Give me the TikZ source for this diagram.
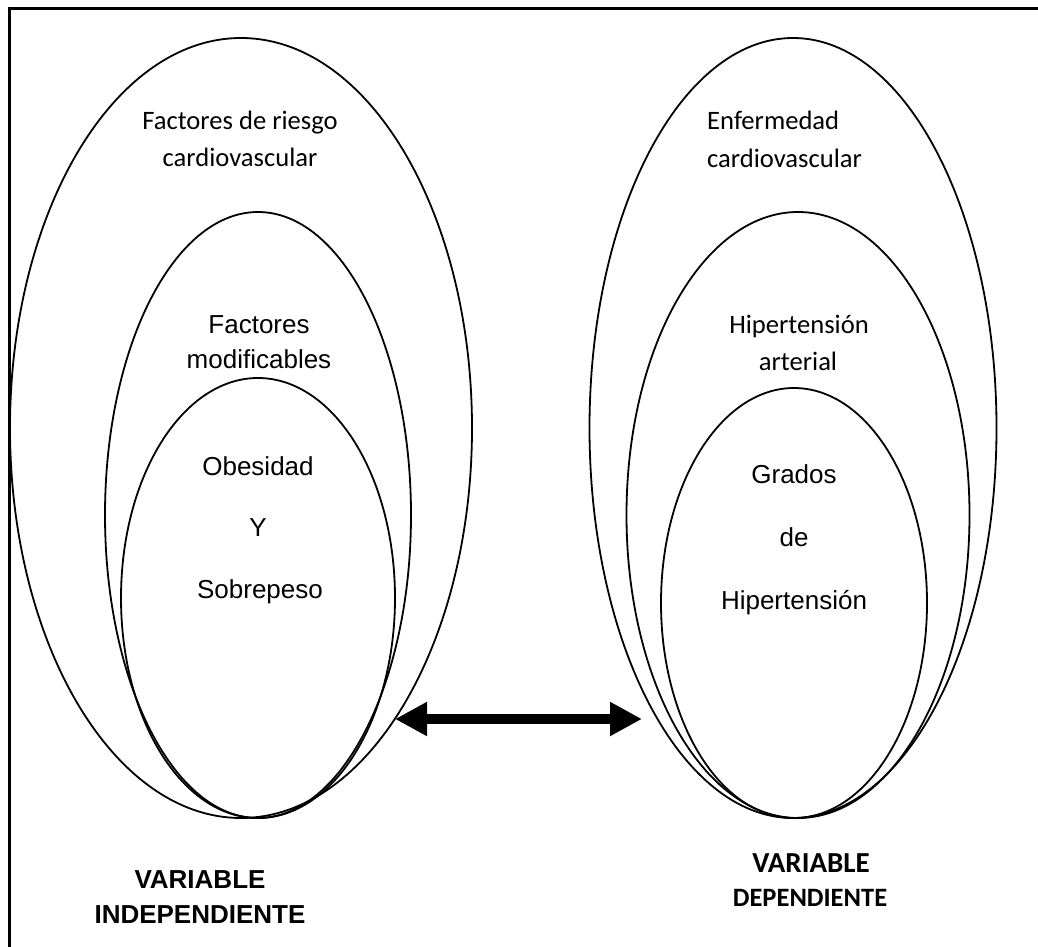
\documentclass[tikz,border=0pt]{standalone}
\usepackage{fontspec}
\usetikzlibrary{shapes.geometric,arrows.meta}
\newfontfamily\calfont{Carlito}
\newfontfamily\arifont{Liberation Sans}
\begin{document}
\begin{tikzpicture}[x=1pt,y=-1pt,
  oval/.style={draw,ellipse,line width=1.8pt,inner sep=0pt},
  cal/.style={inner sep=0pt,anchor=base,font=\calfont\fontsize{26.6}{30}\selectfont},
  ari/.style={inner sep=0pt,anchor=base,font=\arifont\fontsize{26}{30}\selectfont},
  arib/.style={inner sep=0pt,anchor=base,font=\arifont\bfseries\fontsize{26}{30}\selectfont},
  calb/.style={inner sep=0pt,anchor=base,font=\calfont\bfseries\fontsize{26.5}{30}\selectfont},
  bigarrow/.style={line width=10pt,{Triangle[length=32pt,width=32pt]}-{Triangle[length=32pt,width=32pt]}}]
\useasboundingbox (0,0) rectangle (1038,947);
% frame (left and top edges visible)
\draw[line width=3pt] (9,947) -- (9,9) -- (1038,9);
% left ellipses
\node[oval,minimum width=462pt,minimum height=780pt] (L1) at (241,428) {};
\node[oval,minimum width=306pt,minimum height=606pt] (L2) at (258,515) {};
\node[oval,minimum width=274pt,minimum height=440pt] (L3) at (258,598) {};
% right ellipses
\node[oval,minimum width=407pt,minimum height=780pt] (R1) at (793,428) {};
\node[oval,minimum width=343pt,minimum height=606pt] (R2) at (798,515) {};
\node[oval,minimum width=266pt,minimum height=430pt] (R3) at (794,603) {};
% left texts
\node[cal] (t1a) at (240,130) {Factores de riesgo};
\node[cal] (t1b) at (240,166) {cardiovascular};
\node[ari] (t2a) at (259,333) {Factores};
\node[ari] (t2b) at (259,368) {modificables};
\node[ari] (t3a) at (258,475) {Obesidad};
\node[ari] (t3b) at (258,536) {Y};
\node[ari] (t3c) at (260,598) {Sobrepeso};
% right texts
\node[cal,anchor=base west] (r1a) at (707,130) {Enfermedad};
\node[cal,anchor=base west] (r1b) at (707,167) {cardiovascular};
\node[cal] (r2a) at (799,333) {Hipertensión};
\node[cal] (r2b) at (798,370) {arterial};
\node[ari] (r3a) at (794,483) {Grados};
\node[ari] (r3b) at (794,546) {de};
\node[ari] (r3c) at (794,609) {Hipertensión};
% bottom labels
\node[arib] (v1a) at (200,888) {VARIABLE};
\node[arib] (v1b) at (200,923) {INDEPENDIENTE};
\node[calb,font=\calfont\bfseries\fontsize{29}{32}\selectfont] (v2a) at (811,872) {VARIABLE};
\node[calb] (v2b) at (810,906) {DEPENDIENTE};
% double arrow
\coordinate (aL) at (395,719);
\coordinate (aR) at (642,719);
\draw[bigarrow] (aL) -- (aR);
\end{tikzpicture}
\end{document}
